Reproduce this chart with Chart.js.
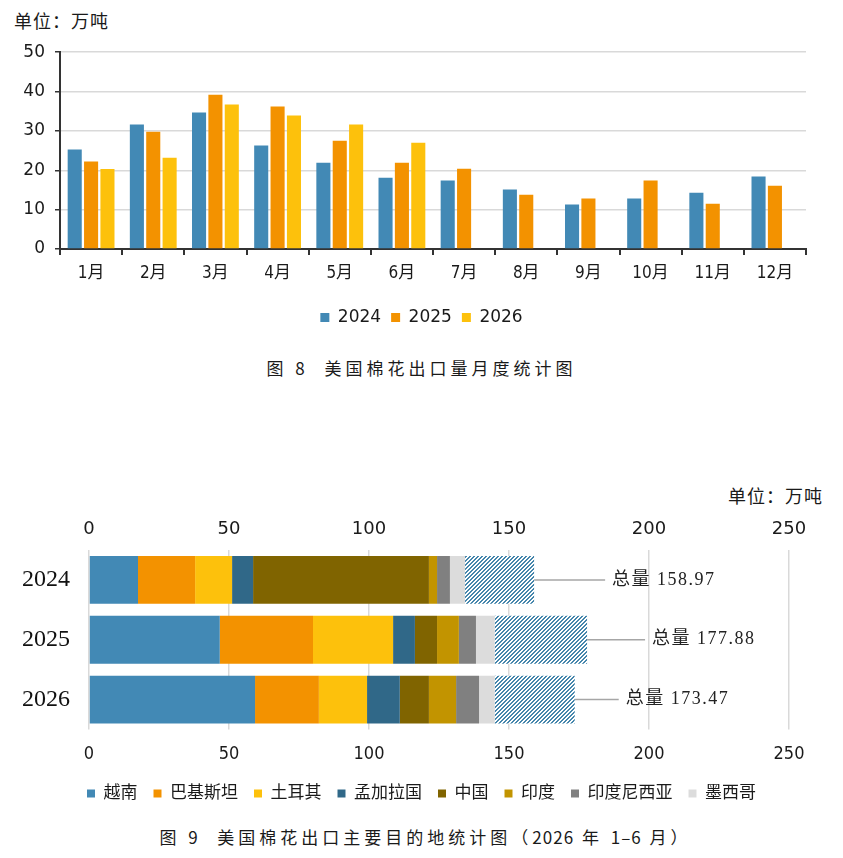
<!DOCTYPE html>
<html lang="zh">
<head>
<meta charset="utf-8">
<title>美国棉花出口统计</title>
<script src="https://cdn.jsdelivr.net/npm/chart.js@4.4.1/dist/chart.umd.min.js"></script>
<style>
    body { margin: 0; background: #fff; }
    #page { position: relative; width: 843px; height: 858px; overflow: hidden; font-family: "Noto Sans CJK SC", sans-serif; color: #1a1a1a; }
    .unit { position: absolute; font-size: 18px; line-height: 20px; letter-spacing: 1px; }
    .caption { position: absolute; left: 0; width: 843px; text-align: center; font-size: 17px; line-height: 20px; letter-spacing: 4px; box-sizing: border-box; }
    .caption .num { letter-spacing: 1px; }
    .box { position: absolute; left: 0; width: 843px; }
</style>
</head>
<body>
<div id="page">
    <div class="unit" style="left:14px; top:10px;">单位：万吨</div>
    <div class="box" style="top:32px; height:304px;"><canvas id="grafico1"></canvas></div>
    <div class="caption" style="top:358px;">图 8&nbsp;&nbsp;美国棉花出口量月度统计图</div>

    <div class="unit" style="left:728px; top:485px;">单位：万吨</div>
    <div class="box" style="top:505px; height:307px;"><canvas id="grafico2"></canvas></div>
    <div class="caption" style="top:827px; padding-left:8px;">图 9&nbsp;&nbsp;美国棉花出口主要目的地统计图（<span class="num">2026</span>&nbsp;年&nbsp;<span class="num">1–6</span>&nbsp;月）</div>
</div>

<script>
// 图8 月度出口量（万吨）
const months = ['1月', '2月', '3月', '4月', '5月', '6月', '7月', '8月', '9月', '10月', '11月', '12月'];
const exports2024 = [25.3, 31.6, 34.7, 26.3, 21.9, 18.1, 17.4, 15.1, 11.3, 12.8, 14.3, 18.4];
const exports2025 = [22.2, 29.8, 39.2, 36.2, 27.5, 21.9, 20.4, 13.8, 12.8, 17.4, 11.5, 16.1];
const exports2026 = [20.3, 23.2, 36.7, 33.9, 31.6, 27.0, null, null, null, null, null, null];

// 图9 主要目的地（万吨）
const years = ['2024', '2025', '2026'];
const countries = ['越南', '巴基斯坦', '土耳其', '孟加拉国', '中国', '印度', '印度尼西亚', '墨西哥'];
const vietnam = [17.5, 46.7, 59.3];
const pakistan = [20.4, 33.3, 22.8];
const turkey = [13.2, 28.6, 17.2];
const bangladesh = [7.5, 7.8, 11.7];
const china = [62.8, 7.9, 10.4];
const india = [2.9, 7.8, 9.7];
const indonesia = [4.6, 6.1, 8.2];
const mexico = [5.4, 6.7, 5.6];
const totals = [158.97, 177.88, 173.47];

const BLUE = '#4289b5';
const ORANGE = '#f39200';
const YELLOW = '#fdc10c';
const countryColors = [BLUE, ORANGE, YELLOW, '#306888', '#806400', '#c29400', '#808080', '#dcdcdc'];

const sansFont = '"DejaVu Sans", "Noto Sans CJK SC", sans-serif';
const narrowFont = '"DejaVu Sans Condensed", "Noto Sans CJK SC", sans-serif';

// crisp "/" stripes: 2 coloured pixels out of every 4 along each row
function makeHatch(color) {
    const tile = document.createElement('canvas');
    const s = 4;
    tile.width = s;
    tile.height = s;
    const g = tile.getContext('2d');
    g.fillStyle = '#fff';
    g.fillRect(0, 0, s, s);
    g.fillStyle = color;
    for (let y = 0; y < s; y++) {
        for (let x = 0; x < s; x++) {
            if ((x + y) % s < 2) g.fillRect(x, y, 1, 1);
        }
    }
    return g.createPattern(tile, 'repeat');
}

// empty axis on the right, only to leave the right margin so the legend stays centred
function spacerAxis(width) {
    return {
        type: 'linear',
        position: 'right',
        afterFit: (scale) => { scale.width = width; },
        grid: { display: false },
        border: { display: false },
        ticks: { display: false }
    };
}

function desenharMensal() {
    const ctx = document.getElementById('grafico1').getContext('2d');
    const serie = (label, data, color) => ({
        label: label,
        data: data,
        backgroundColor: color,
        borderWidth: 0,
        categoryPercentage: 0.79,
        barPercentage: 0.86
    });

    new Chart(ctx, {
        type: 'bar',
        data: {
            labels: months,
            datasets: [
                serie('2024', exports2024, BLUE),
                serie('2025', exports2025, ORANGE),
                serie('2026', exports2026, YELLOW)
            ]
        },
        options: {
            responsive: true,
            maintainAspectRatio: false,
            animation: false,
            layout: { padding: { top: 4, left: 0, right: 0, bottom: 0 } },
            plugins: {
                tooltip: { enabled: false },
                legend: {
                    position: 'bottom',
                    labels: {
                        boxWidth: 9,
                        boxHeight: 9,
                        padding: 10,
                        color: '#1a1a1a',
                        font: { family: sansFont, size: 17 }
                    }
                }
            },
            scales: {
                x: {
                    afterFit: (scale) => { scale.height = 50; },
                    grid: { offset: true, drawOnChartArea: false, drawTicks: true, tickLength: 6, color: '#333', lineWidth: 2 },
                    border: { color: '#333', width: 2 },
                    ticks: { color: '#1a1a1a', padding: 8, font: { family: narrowFont, size: 17 } }
                },
                y: {
                    min: 0,
                    max: 50,
                    afterFit: (scale) => { scale.width = 60; },
                    grid: { color: '#d9d9d9', lineWidth: 1.5, tickColor: '#333', tickLength: 5 },
                    border: { color: '#333', width: 2 },
                    ticks: { stepSize: 10, color: '#1a1a1a', padding: 10, font: { family: sansFont, size: 17 } }
                },
                yRight: spacerAxis(37)
            }
        }
    });
}

const totalLabels = {
    id: 'totalLabels',
    afterDatasetsDraw(chart, args, opts) {
        const ctx = chart.ctx;
        const xs = chart.scales.x;
        const ys = chart.scales.y;
        ctx.save();
        totals.forEach((t, i) => {
            const x0 = xs.getPixelForValue(t);
            const y = ys.getPixelForValue(i);
            const x1 = x0 + opts.leader[i];
            ctx.strokeStyle = '#a6a6a6';
            ctx.lineWidth = 1.5;
            ctx.beginPath();
            ctx.moveTo(x0, y);
            ctx.lineTo(x1, y);
            ctx.stroke();
            ctx.fillStyle = '#222';
            ctx.font = '18px "Liberation Serif", "Noto Sans CJK SC", serif';
            ctx.letterSpacing = '1.5px';
            ctx.textBaseline = 'middle';
            ctx.textAlign = 'left';
            ctx.fillText('总量 ' + t.toFixed(2), x1 + 7, y);
        });
        ctx.restore();
    }
};

function desenharDestinos() {
    const ctx = document.getElementById('grafico2').getContext('2d');
    const values = [vietnam, pakistan, turkey, bangladesh, china, india, indonesia, mexico];

    const datasets = countries.map((name, k) => ({
        label: name,
        data: values[k],
        backgroundColor: countryColors[k],
        borderWidth: 0,
        categoryPercentage: 1,
        barPercentage: 0.8
    }));

    // 其他 = 总量 - 主要目的地之和
    const others = totals.map((t, i) => t - values.reduce((s, arr) => s + arr[i], 0));
    datasets.push({
        label: '其他',
        data: others,
        backgroundColor: makeHatch('#4586ac'),
        borderWidth: 0,
        categoryPercentage: 1,
        barPercentage: 0.8
    });

    new Chart(ctx, {
        type: 'bar',
        data: { labels: years, datasets: datasets },
        plugins: [totalLabels],
        options: {
            indexAxis: 'y',
            responsive: true,
            maintainAspectRatio: false,
            animation: false,
            layout: { padding: 0 },
            plugins: {
                tooltip: { enabled: false },
                totalLabels: { leader: [71, 58, 44] },
                legend: {
                    position: 'bottom',
                    labels: {
                        boxWidth: 8,
                        boxHeight: 8,
                        padding: 16,
                        color: '#1a1a1a',
                        font: { family: narrowFont, size: 17 },
                        filter: (item) => item.text !== '其他'
                    }
                }
            },
            scales: {
                x: {
                    position: 'top',
                    stacked: true,
                    min: 0,
                    max: 250,
                    afterFit: (scale) => { scale.height = 45; },
                    grid: { color: '#d9d9d9', lineWidth: 1.5, drawTicks: false },
                    border: { display: false },
                    ticks: { stepSize: 50, color: '#1a1a1a', padding: 10, font: { family: sansFont, size: 18 } }
                },
                x2: {
                    type: 'linear',
                    position: 'bottom',
                    min: 0,
                    max: 250,
                    afterFit: (scale) => { scale.height = 39.5; },
                    grid: { display: false },
                    border: { display: false },
                    ticks: { stepSize: 50, color: '#1a1a1a', padding: 6, font: { family: narrowFont, size: 18 } }
                },
                y: {
                    stacked: true,
                    afterFit: (scale) => { scale.width = 89; },
                    grid: { display: false, drawTicks: false },
                    border: { display: false },
                    ticks: { color: '#111', padding: 19, font: { family: '"Liberation Serif", serif', size: 24 } }
                },
                yRight: spacerAxis(54)
            }
        }
    });
}

document.addEventListener('DOMContentLoaded', function() {
    desenharMensal();
    desenharDestinos();
});
</script>
</body>
</html>
